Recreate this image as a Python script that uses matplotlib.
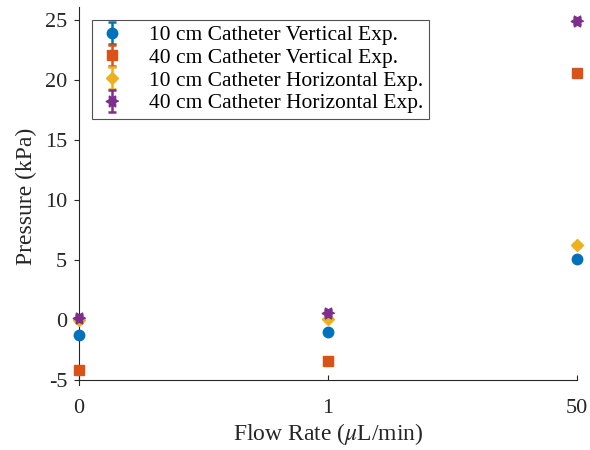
import numpy as np
import matplotlib
matplotlib.use("Agg")
import matplotlib.pyplot as plt

# ── data ─────────────────────────────────────────────
flow_labels = ["0", "1", "50"]
x_pos = np.arange(len(flow_labels))

vert_10 = [-1.25, -1.0, 5.1]
vert_40 = [-4.15, -3.4, 20.6]
horiz_10 = [0.0, 0.08, 6.25]
horiz_40 = [0.15, 0.58, 24.9]

err_vert_10 = [0.15, 0.15, 0.15]
err_vert_40 = [0.15, 0.15, 0.15]
err_horiz_10 = [0.15, 0.15, 0.15]
err_horiz_40 = [0.25, 0.25, 0.25]

# MATLAB-style hexagram marker (points at 0, 60, ... deg)
ang = np.deg2rad(np.arange(0, 360, 30))
rad = np.where(np.arange(12) % 2 == 0, 1.0, 0.577)
hexagram = list(zip(rad * np.cos(ang), rad * np.sin(ang)))

series = [
    ("10 cm Catheter Vertical Exp.", vert_10, err_vert_10, "#0072BD", "o", 7.5),
    ("40 cm Catheter Vertical Exp.", vert_40, err_vert_40, "#D95319", "s", 6.5),
    ("10 cm Catheter Horizontal Exp.", horiz_10, err_horiz_10, "#EDB120", "D", 6.5),
    ("40 cm Catheter Horizontal Exp.", horiz_40, err_horiz_40, "#7E2F8E", hexagram, 9),
]

plt.rcParams["font.family"] = ["Liberation Serif", "DejaVu Serif"]
plt.rcParams["mathtext.fontset"] = "stix"
plt.rcParams["axes.unicode_minus"] = False

fig = plt.figure(figsize=(5.9, 4.5), dpi=100)
ax = fig.add_axes([0.1339, 0.1444, 0.8441, 0.84])

for label, vals, err, color, marker, ms in series:
    ax.errorbar(x_pos, vals, yerr=err, marker=marker, linestyle="none", color=color,
                ms=ms, capsize=3, elinewidth=1.8, capthick=1.8, label=label,
                clip_on=False, zorder=3)

ax.set_xlim(0, 2)
ax.set_ylim(-5.42, 26.08)
ax.set_xticks(x_pos)
ax.set_xticklabels(flow_labels)
ax.set_yticks([-5, 0, 5, 10, 15, 20, 25])

ax.spines[["top", "right"]].set_visible(False)
ax.spines["bottom"].set_position(("data", -5))
ax.spines[["left", "bottom"]].set_color("#262626")
ax.tick_params(axis="y", direction="out", labelsize=16, colors="#262626", pad=5)
ax.tick_params(axis="x", direction="in", labelsize=16, colors="#262626", pad=14)

ax.set_xlabel(r"Flow Rate ($\mu$L/min)", fontsize=17, color="#262626", labelpad=2)
ax.set_ylabel("Pressure (kPa)", fontsize=17, color="#262626", labelpad=6)

leg = ax.legend(loc="upper left", bbox_to_anchor=(0.026, 0.966), borderaxespad=0,
                fontsize=15.5, fancybox=False, edgecolor="#262626", markerscale=1.0,
                handlelength=1.4, handletextpad=1.0, labelspacing=0.12, borderpad=0.25)
leg.get_frame().set_linewidth(0.8)

fig.savefig("out.png", dpi=100)
